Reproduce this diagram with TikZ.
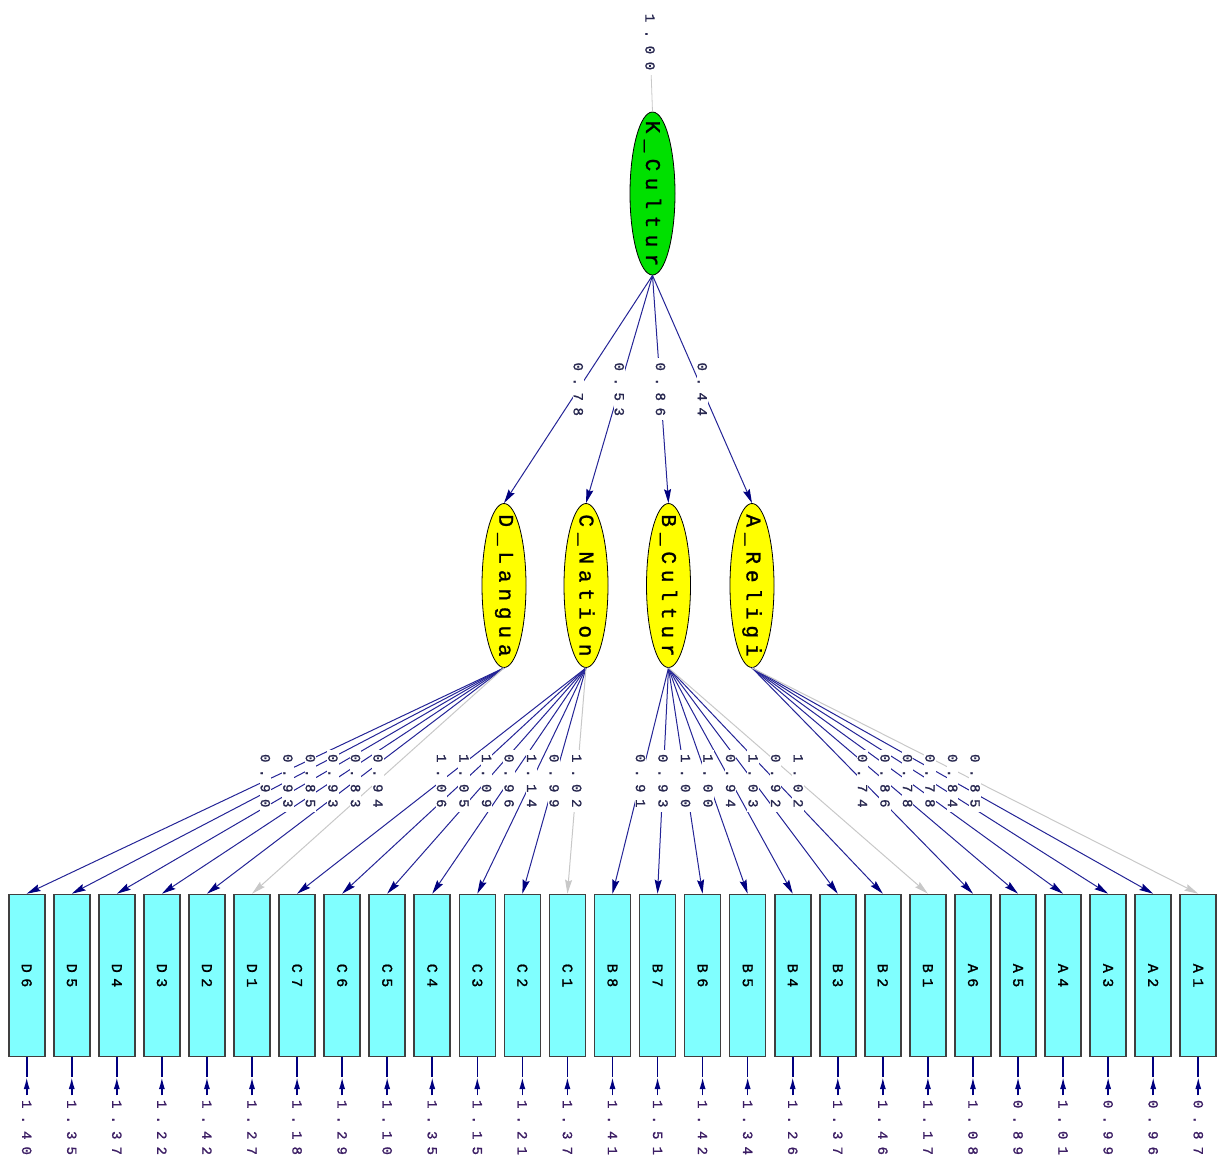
\documentclass[tikz,border=0pt]{standalone}
\usepackage{fontspec}
\usetikzlibrary{shapes.geometric,arrows.meta,calc}
\newfontfamily\pdmono[FakeBold=1.2]{Liberation Mono}

% set a short string with a fixed pitch for every character
\makeatletter
\newcommand\spaced[2]{\def\sp@w{#1}\expandafter\sp@run#2\sp@end}
\def\sp@run#1\sp@end{\@tfor\sp@ch:=#1\do{\makebox[\sp@w][c]{\sp@ch}}}
\makeatother

\definecolor{kgreen}{RGB}{0,224,0}
\definecolor{fyellow}{RGB}{255,255,0}
\definecolor{cyanbox}{RGB}{128,255,255}
\definecolor{boxedge}{RGB}{64,64,64}
\definecolor{pathblue}{RGB}{36,36,150}
\definecolor{tipnavy}{RGB}{0,0,128}
\definecolor{fixgray}{RGB}{200,200,200}
\definecolor{lbltext}{RGB}{40,40,80}
\definecolor{errtext}{RGB}{60,30,100}

\begin{document}
\begin{tikzpicture}[x=1pt,y=-1pt,
  lat/.style={ellipse,draw=black,line width=0.8pt,inner sep=0pt,
    minimum width=44pt,minimum height=164pt},
  latK/.style={lat,fill=kgreen,minimum width=45pt,minimum height=163pt},
  latY/.style={lat,fill=fyellow},
  lattxt/.style={rotate=-90,inner sep=0pt,text=black,
    font=\pdmono\fontsize{21}{21}\selectfont},
  obs/.style={rectangle,draw=boxedge,line width=1.6pt,fill=cyanbox,
    inner sep=0pt,minimum width=36pt,minimum height=162pt},
  obstxt/.style={rotate=-90,inner sep=0pt,text=black,
    font=\pdmono\fontsize{15}{15}\selectfont},
  pth/.style={draw=pathblue,line width=1pt,
    -{Stealth[length=14pt,width=7pt,inset=2pt,color=tipnavy]}},
  fix/.style={draw=fixgray,line width=1pt,
    -{Stealth[length=14pt,width=7pt,inset=2pt,color=fixgray]}},
  lbl/.style={rotate=-90,fill=white,inner sep=1pt,text=lbltext,
    font=\pdmono\fontsize{14}{14}\selectfont},
  elbl/.style={rotate=-90,inner sep=1pt,text=errtext,
    font=\pdmono\fontsize{14}{14}\selectfont},
  errln/.style={draw=tipnavy,line width=1.6pt},
  errtip/.style={draw=tipnavy,line width=1.6pt,
    -{Latex[length=12pt,width=6pt,color=tipnavy]}},
  topln/.style={draw=fixgray,line width=0.8pt}]

\useasboundingbox (0,0) rectangle (1218,1163);

% second-order factor and its variance
\node[latK] (K) at (652.5,193.5) {};
\node[lattxt] (Kt) at (K) {\spaced{19pt}{K\_Cultur}};
\node[lbl] (Kv) at (650,42) {\spaced{16pt}{1.00}};
\draw[topln] (K.north) -- (Kv);

% first-order factors
\node[latY] (Dl) at (504,585.5) {};
\node[latY] (Cn) at (586,585.5) {};
\node[latY] (Bc) at (668.5,585.5) {};
\node[latY] (Ar) at (752,585.5) {};
\node[lattxt] (Dlt) at (Dl) {\spaced{18.5pt}{D\_Langua}};
\node[lattxt] (Cnt) at (Cn) {\spaced{18.5pt}{C\_Nation}};
\node[lattxt] (Bct) at (Bc) {\spaced{18.5pt}{B\_Cultur}};
\node[lattxt] (Art) at (Ar) {\spaced{18.5pt}{A\_Religi}};

% indicators
\foreach \nm [count=\i from 0] in {D6,D5,D4,D3,D2,D1,C7,C6,C5,C4,C3,C2,C1,
    B8,B7,B6,B5,B4,B3,B2,B1,A6,A5,A4,A3,A2,A1} {
  \pgfmathsetmacro\xx{26.7+45.06*\i}
  \node[obs] (\nm) at (\xx,975.5) {};
  \node[obstxt] (t\nm) at (\nm) {\spaced{14.5pt}{\nm}};
  \coordinate (h\nm) at (\xx,1077);
}

% second-order loadings
\foreach \f in {Dl,Cn,Bc,Ar} {
  \draw[pth] (K.south) -- (\f.north);
}

% first-order loadings and error terms
\foreach \nm/\src/\ld/\er/\kind in {
    D6/Dl/0.90/1.40/pth, D5/Dl/0.93/1.35/pth, D4/Dl/0.85/1.37/pth,
    D3/Dl/0.93/1.22/pth, D2/Dl/0.83/1.42/pth, D1/Dl/0.94/1.27/fix,
    C7/Cn/1.06/1.18/pth, C6/Cn/1.05/1.29/pth, C5/Cn/1.09/1.10/pth,
    C4/Cn/0.96/1.35/pth, C3/Cn/1.14/1.15/pth, C2/Cn/0.99/1.21/pth,
    C1/Cn/1.02/1.37/fix,
    B8/Bc/0.91/1.41/pth, B7/Bc/0.93/1.51/pth, B6/Bc/1.00/1.42/pth,
    B5/Bc/1.00/1.34/pth, B4/Bc/0.94/1.26/pth, B3/Bc/1.03/1.37/pth,
    B2/Bc/0.92/1.46/pth, B1/Bc/1.02/1.17/fix,
    A6/Ar/0.74/1.08/pth, A5/Ar/0.86/0.89/pth, A4/Ar/0.78/1.01/pth,
    A3/Ar/0.78/0.99/pth, A2/Ar/0.84/0.96/pth, A1/Ar/0.85/0.87/fix} {
  \draw[\kind] (\src.south) -- (\nm.north);
  \node[elbl,anchor=west] (e\nm) at ($(\nm.south)+(0,38)$) {\spaced{15.5pt}{\er}};
  \draw[errln] (h\nm) -- (\nm.south);
  \draw[errtip] (e\nm) -- (h\nm);
}

% loading values on top of the paths
\node[lbl] (vDl) at ($(K.south)!0.5!(Dl.north)$) {\spaced{15pt}{0.78}};
\node[lbl] (vCn) at ($(K.south)!0.5!(Cn.north)$) {\spaced{15pt}{0.53}};
\node[lbl] (vBc) at ($(K.south)!0.5!(Bc.north)$) {\spaced{15pt}{0.86}};
\node[lbl] (vAr) at ($(K.south)!0.5!(Ar.north)$) {\spaced{15pt}{0.44}};
\foreach \nm/\src/\ld in {
    D6/Dl/0.90, D5/Dl/0.93, D4/Dl/0.85, D3/Dl/0.93, D2/Dl/0.83, D1/Dl/0.94,
    C7/Cn/1.06, C6/Cn/1.05, C5/Cn/1.09, C4/Cn/0.96, C3/Cn/1.14, C2/Cn/0.99,
    C1/Cn/1.02,
    B8/Bc/0.91, B7/Bc/0.93, B6/Bc/1.00, B5/Bc/1.00, B4/Bc/0.94, B3/Bc/1.03,
    B2/Bc/0.92, B1/Bc/1.02,
    A6/Ar/0.74, A5/Ar/0.86, A4/Ar/0.78, A3/Ar/0.78, A2/Ar/0.84, A1/Ar/0.85} {
  \node[lbl] (v\nm) at ($(\src.south)!0.5!(\nm.north)$) {\spaced{15pt}{\ld}};
}
\end{tikzpicture}
\end{document}
